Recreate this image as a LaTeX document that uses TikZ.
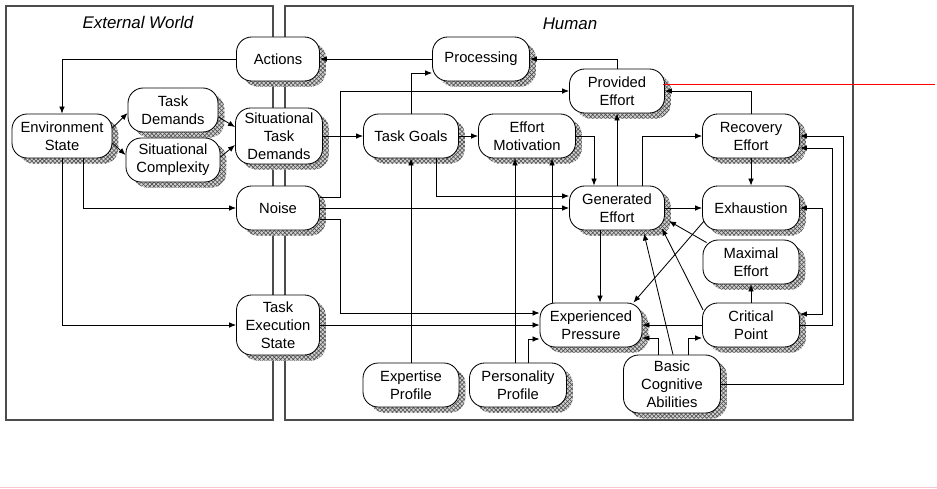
\documentclass[tikz,border=0pt]{standalone}
\usepackage{fontspec}
\setmainfont{Liberation Sans}
\usetikzlibrary{arrows.meta,calc,patterns,shadows}
\definecolor{pagerule}{RGB}{246,196,206}
\tikzset{
  factor/.style={draw, fill=white, rounded corners=0.38cm, align=center,
    minimum width=2.375cm, minimum height=1.1cm, inner sep=1pt,
    font=\fontsize{10.5}{12.8}\selectfont,
    general shadow={shadow xshift=4.5pt, shadow yshift=-4pt, fill=gray!35},
    general shadow={shadow xshift=4.5pt, shadow yshift=-4pt, pattern=crosshatch, pattern color=gray!60!black}},
  zone/.style={draw=black!70, line width=1pt},
  zonelabel/.style={font=\fontsize{12}{14}\selectfont\itshape}
}
\begin{document}
\begin{tikzpicture}[x=0.025cm, y=0.025cm, >={Latex[length=5pt,width=4pt]}, line width=0.6pt]
			\useasboundingbox (0,0) rectangle (937,-488);
			% the two zones
			\draw[zone] (6,-6) rectangle (273,-420);
			\draw[zone] (285,-6) rectangle (853,-420);
			\node[zonelabel] (external) at (138,-22) {External World};
			\node[zonelabel] (human) at (570,-24) {Human};
			% external world
			\node[factor, minimum width=2.075cm] (actions) at (278,-59) {Actions};
			\node[factor, minimum width=2.5cm] (envstate) at (62,-136) {Environment\\State};
			\node[factor, minimum width=2.25cm] (taskdemands) at (173,-110) {Task\\Demands};
			\node[factor, minimum width=2.35cm] (sitcomplexity) at (173,-160) {Situational\\Complexity};
			\node[factor, minimum width=2.175cm, minimum height=1.4cm] (sitdemands) at (279,-136) {Situational\\Task\\Demands};
			\node[factor, minimum width=2.075cm] (noise) at (278,-208) {Noise};
			\node[factor, minimum width=2.075cm, minimum height=1.5cm] (execstate) at (278,-325) {Task\\Execution\\State};
			% human
			\node[factor, minimum width=2.425cm] (processing) at (481,-59) {Processing};
			\node[factor] (provided) at (617,-91) {Provided\\Effort};
			\node[factor] (goals) at (411,-136) {Task Goals};
			\node[factor, minimum width=2.425cm] (motivation) at (527,-136) {Effort\\Motivation};
			\node[factor] (generated) at (617,-208) {Generated\\Effort};
			\node[factor, minimum width=2.425cm] (recovery) at (751,-136) {Recovery\\Effort};
			\node[factor, minimum width=2.425cm] (exhaustion) at (751,-208) {Exhaustion};
			\node[factor, minimum width=2.4cm] (maximal) at (751,-262) {Maximal\\Effort};
			\node[factor, minimum width=2.425cm] (critical) at (751,-325) {Critical\\Point};
			\node[factor, minimum width=2.55cm] (pressure) at (591,-325) {Experienced\\Pressure};
			\node[factor, minimum width=2.425cm, minimum height=1.45cm] (cognitive) at (672,-384) {Basic\\Cognitive\\Abilities};
			\node[factor, minimum width=2.4cm] (expertise) at (411,-385) {Expertise\\Profile};
			\node[factor, minimum width=2.425cm] (personality) at (518,-385) {Personality\\Profile};
			\coordinate (marker) at (935,-84);
			% connectors, external world
			\draw[->] (actions) -| (envstate);
			\draw[->] ($(envstate.east)+(0,8)$) -- ($(taskdemands.west)+(0,-3)$);
			\draw[->] ($(envstate.east)+(0,-7)$) -- ($(sitcomplexity.west)+(0,5)$);
			\draw[->] ($(taskdemands.east)+(0,-7)$) -- ($(sitdemands.west)+(0,9)$);
			\draw[->] ($(sitcomplexity.east)+(0,3)$) -- ($(sitdemands.west)+(0,-9)$);
			\draw[->] ($(envstate.south)+(21,0)$) |- (noise);
			\draw[->] (envstate) |- (execstate);
			% connectors, human
			\draw[->] (processing) -- (actions);
			\draw[->] (provided) |- (processing);
			\draw[->] (sitdemands) -- (goals);
			\draw[->] ($(noise.east)+(0,11)$) -- ++(20,0) |- (provided);
			\draw[->] (noise) -- (generated);
			\draw[->] ($(noise.east)+(0,-11)$) -- ++(20,0) |- ($(pressure.west)+(0,12)$);
			\draw[->] (execstate) -- (pressure);
			\draw[->] (goals) |- ($(processing.west)+(0,-14)$);
			\draw[->] (goals) -- (motivation);
			\draw[->] ($(goals.south)+(25,0)$) |- ($(generated.west)+(0,12)$);
			\draw[->] (motivation) -| ($(generated.north)+(-23,0)$);
			\draw[->] (expertise) -- (goals);
			\draw[->] ($(personality.north)+(-3,0)$) -- ($(motivation.south)+(-12,0)$);
			\draw[->] ($(personality.north)+(10,0)$) |- ($(pressure.west)+(0,-14)$);
			\draw[->] ($(pressure.north)+(-39,0)$) -- ($(motivation.south)+(25,0)$);
			\draw[->] ($(generated.south)+(-17,0)$) -- ($(pressure.north)+(9,0)$);
			\draw[->] (generated) -- (provided);
			\draw[->] ($(generated.north)+(25,0)$) |- (recovery);
			\draw[->] (recovery) |- (provided);
			\draw[->] (recovery) -- (exhaustion);
			\draw[->] (generated) -- (exhaustion);
			\draw[->] ($(exhaustion.west)+(2,-13)$) -- ($(pressure.north east)+(-9,0)$);
			\draw[->] ($(maximal.north west)+(4,-3)$) -- ($(generated.east)+(4,-13)$);
			\draw[->] ($(critical.west)+(1,15)$) -- ($(generated.south east)+(-3,2)$);
			\draw[->] ($(cognitive.north)+(1,0)$) -- ($(generated.south)+(27,-3)$);
			\draw[->] (critical) -- (pressure);
			\draw[->] (critical) -- (maximal);
			\draw[->] ($(cognitive.north)+(-14,0)$) |- ($(pressure.east)+(0,-13)$);
			\draw[->] ($(cognitive.north)+(16,0)$) |- ($(critical.west)+(0,-13)$);
			\draw[<->] (exhaustion.east) -- ++(22,0) |- ($(critical.east)+(0,11)$);
			\draw[->] (critical.east) -- ++(32,0) |- ($(recovery.east)+(0,-12)$);
			\draw[->] (cognitive.east) -- ++(122,0) |- (recovery.east);
			% marker lines
			\draw[red] ($(provided.east)+(-2,7)$) -- (marker);
			\draw[pagerule] (0,-487) -- (937,-487);
\end{tikzpicture}
\end{document}
